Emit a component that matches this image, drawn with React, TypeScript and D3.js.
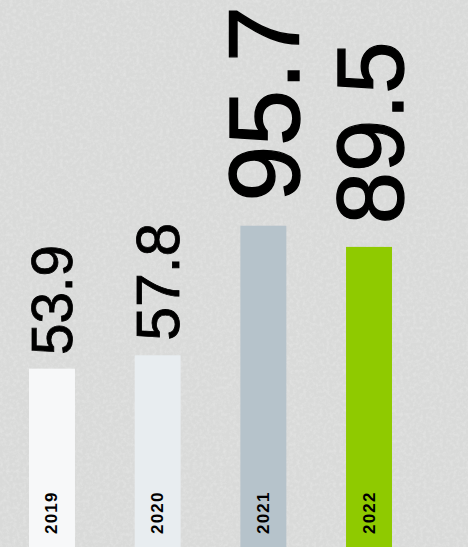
import * as d3 from 'd3';
import React, { useRef, useEffect } from 'react';

const years = ['2019', '2020', '2021', '2022'];
const values = [53.9, 57.8, 95.7, 89.5];
const barColors = ['#f7f8f9', '#e8edf0', '#b6c3cb', '#8fca00'];

const width = 468;
const height = 547;

export default function App() {
  const ref = useRef<SVGSVGElement>(null);

  useEffect(() => {
    const svg = d3.select(ref.current);
    svg.selectAll('*').remove();

    const defs = svg.append('defs');
    const filter = defs.append('filter').attr('id', 'paper').attr('x', 0).attr('y', 0).attr('width', '100%').attr('height', '100%');
    filter.append('feTurbulence').attr('type', 'fractalNoise').attr('baseFrequency', 0.3).attr('numOctaves', 3).attr('seed', 4).attr('result', 'noise');
    filter.append('feColorMatrix').attr('type', 'matrix')
      .attr('values', '0 0 0 0 1  0 0 0 0 1  0 0 0 0 1  0.9 0 0 0 -0.35');

    // background
    svg.append('rect').attr('width', width).attr('height', height).attr('fill', '#d9dad9');
    svg.append('rect').attr('width', width).attr('height', height).attr('fill', '#fff').attr('filter', 'url(#paper)').attr('opacity', 0.5);

    const x = d3.scaleBand<string>().domain(years).range([29, 392]).paddingInner(0.565).paddingOuter(0);
    const y = d3.scaleLinear().domain([0, 100]).range([553, 211]);
    const fontSize = d3.scaleLinear().domain([0, 100]).range([0, 105]);

    const data = years.map((yr, i) => ({ year: yr, value: values[i], color: barColors[i] }));

    const g = svg.append('g');

    g.selectAll('rect.bar')
      .data(data)
      .enter().append('rect')
      .attr('class', 'bar')
      .attr('x', d => x(d.year)!)
      .attr('y', d => y(d.value))
      .attr('width', x.bandwidth())
      .attr('height', d => y(0) - y(d.value))
      .attr('fill', d => d.color);

    // value labels, size grows with the value
    g.selectAll('text.value')
      .data(data)
      .enter().append('text')
      .attr('class', 'value')
      .attr('transform', d => {
        const fs = fontSize(d.value);
        const cx = x(d.year)! + x.bandwidth() / 2 + 0.358 * fs;
        const cy = y(d.value) - 0.24 * fs;
        return `translate(${cx},${cy}) rotate(-90)`;
      })
      .attr('text-anchor', 'start')
      .style('font-family', '"Liberation Sans", Arial, sans-serif')
      .style('font-size', d => `${fontSize(d.value)}px`)
      .attr('fill', '#000')
      .attr('stroke', '#000')
      .attr('stroke-width', d => fontSize(d.value) * 0.014)
      .text(d => d.value.toFixed(1));

    // year labels inside the bars
    g.selectAll('text.year')
      .data(data)
      .enter().append('text')
      .attr('class', 'year')
      .attr('transform', d => `translate(${x(d.year)! + x.bandwidth() / 2 + 5.5},534) rotate(-90)`)
      .attr('text-anchor', 'start')
      .style('font-family', '"Liberation Sans", Arial, sans-serif')
      .style('font-size', '17px')
      .style('font-weight', 'bold')
      .style('letter-spacing', '1.2px')
      .attr('fill', '#000')
      .text(d => d.year);
  }, []);

  return (
    <div style={{ position: 'absolute', left: 0, top: 0 }}>
      <svg ref={ref} width={width} height={height} style={{ display: 'block' }}></svg>
    </div>
  );
}
